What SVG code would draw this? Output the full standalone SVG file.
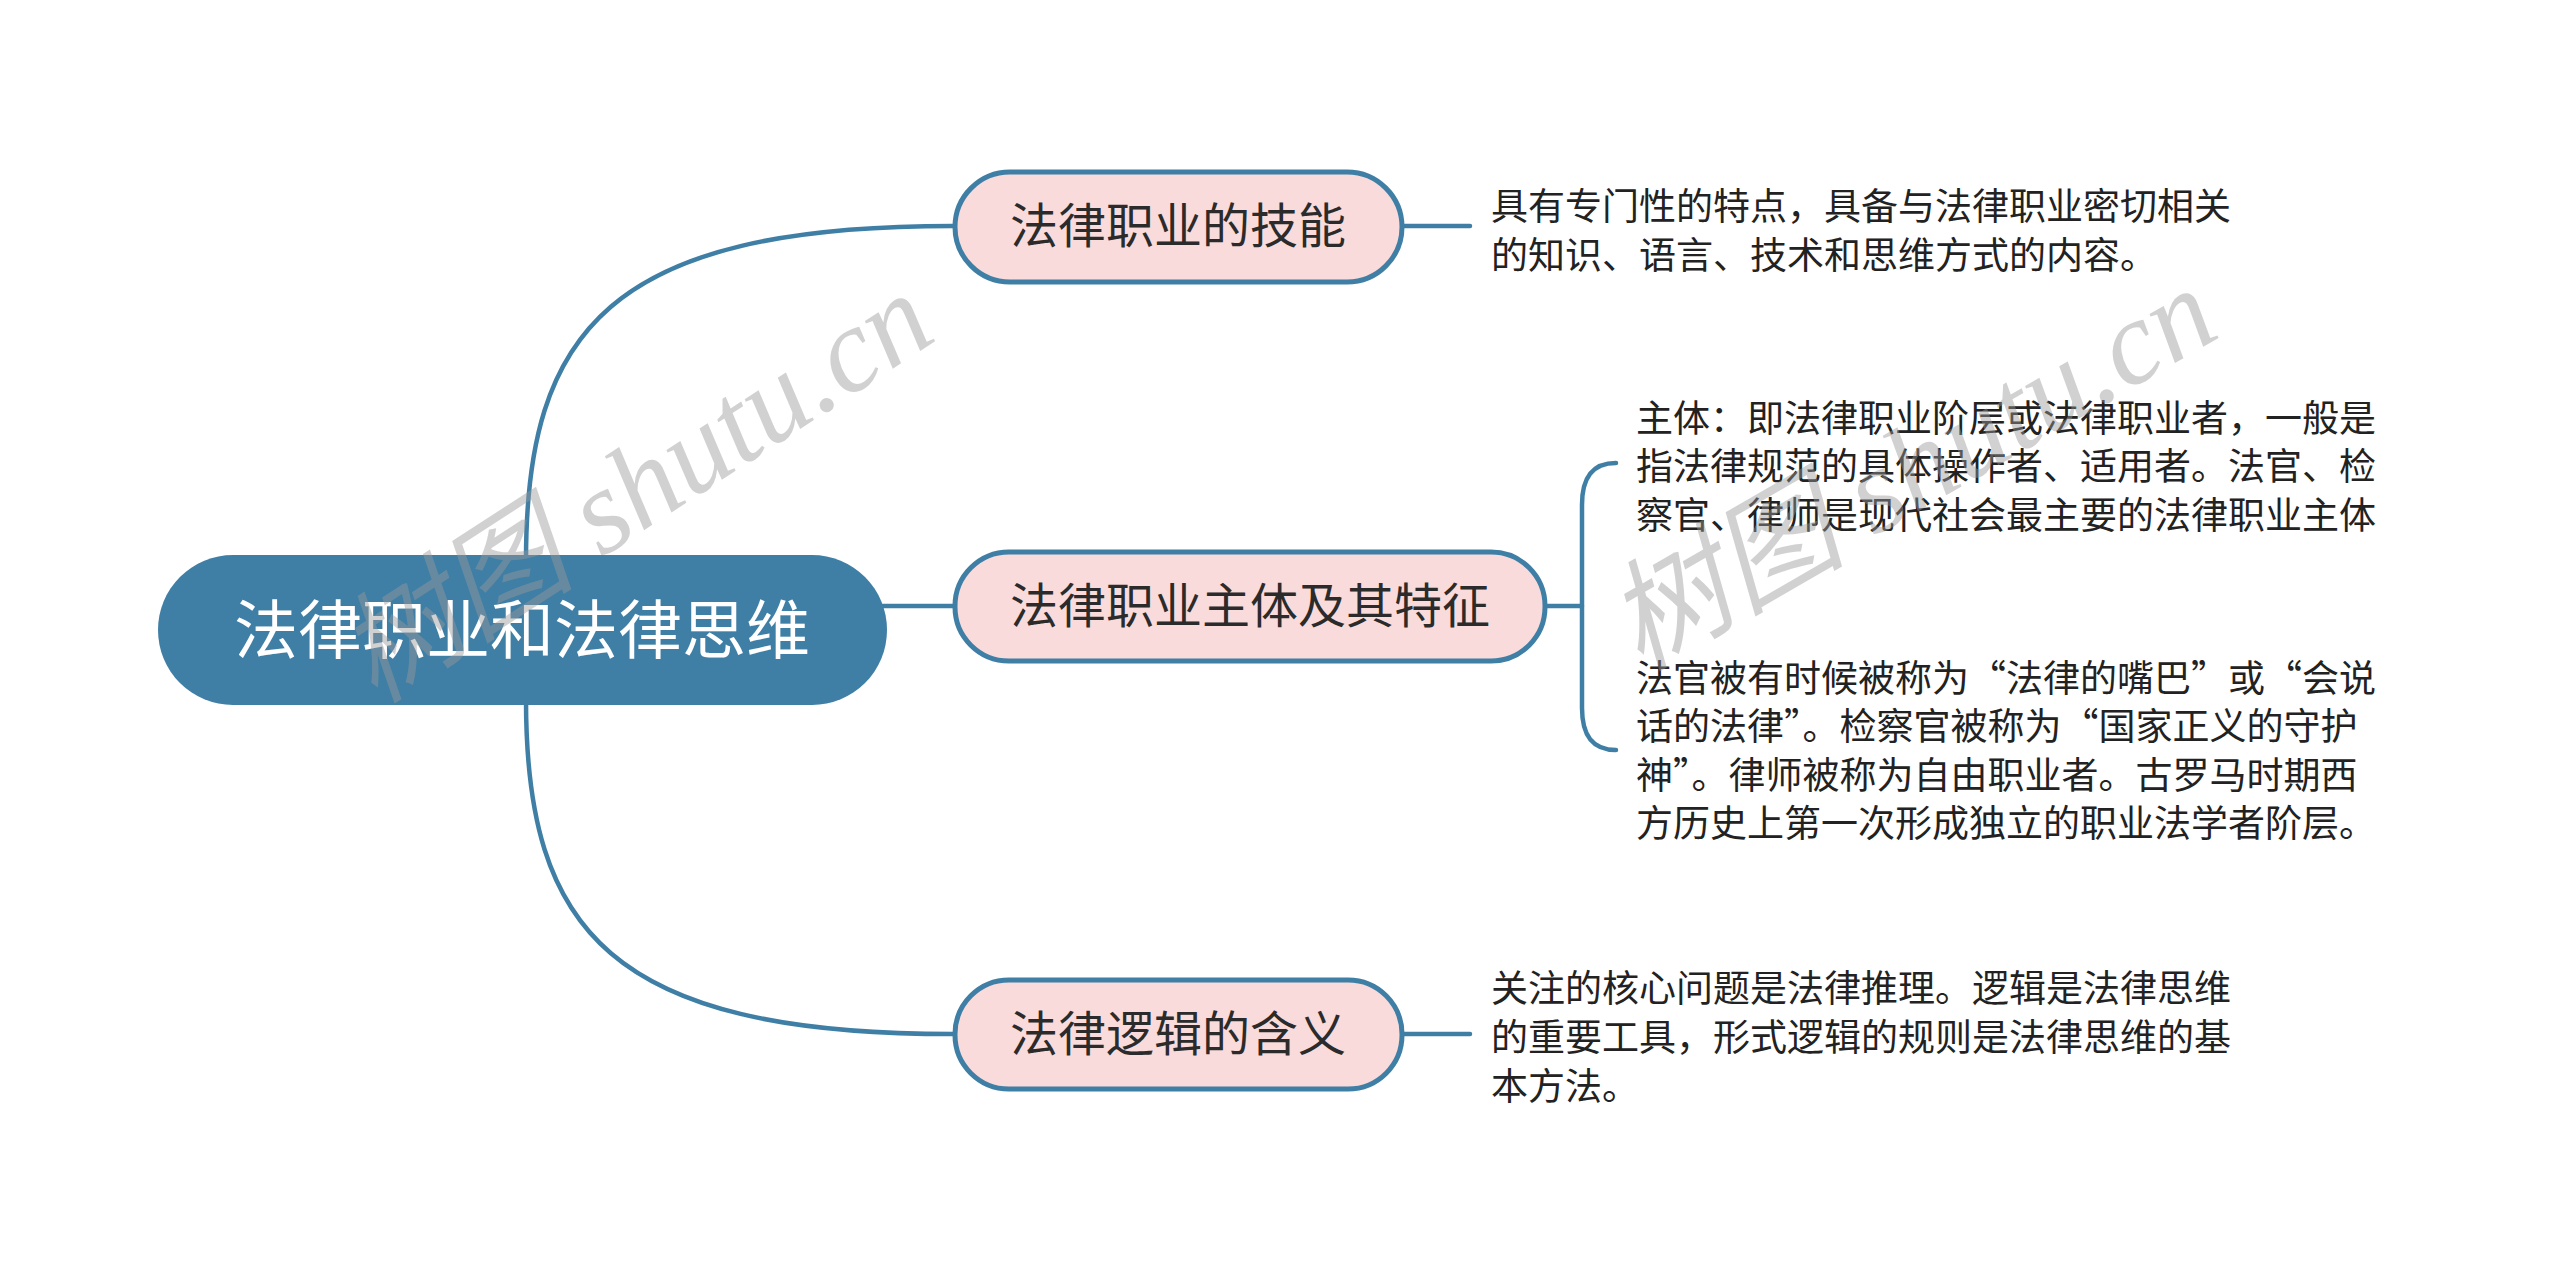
<svg xmlns="http://www.w3.org/2000/svg" width="2560" height="1285" viewBox="0 0 2560 1285">
<style>
.conn{fill:none;stroke:#3f7fa6;stroke-width:4.5;stroke-linecap:round}
.topic{fill:#fadbdb;stroke:#3f7fa6;stroke-width:5}
.root{fill:#3f7fa6}
.tt{font-family:"Noto Sans CJK SC","Noto Sans",sans-serif;font-size:48px;fill:#2b2b2b;text-anchor:middle}
.rt{font-family:"Noto Sans CJK SC","Noto Sans",sans-serif;font-size:64px;fill:#ffffff;text-anchor:middle}
.note{font-family:"Noto Sans CJK SC","Noto Sans",sans-serif;font-size:37px;fill:#222222}
.wm{font-family:"Liberation Serif","Noto Sans CJK SC",serif;font-style:italic;font-size:120px;fill:#9a9a9a;fill-opacity:0.45}
</style>
<rect width="2560" height="1285" fill="#ffffff"/>
<g id="connectors">
<path class="conn" d="M 526 560 C 526 330, 610 226, 953 226"/>
<path class="conn" d="M 870 606 L 953 606"/>
<path class="conn" d="M 526 700 C 526 930, 610 1034, 953 1034"/>
<path class="conn" d="M 1402 226 L 1470 226"/>
<path class="conn" d="M 1545 606 L 1582 606"/>
<path class="conn" d="M 1616 463 C 1592 463, 1582 478, 1582 505 L 1582 708 C 1582 735, 1592 750, 1616 750"/>
<path class="conn" d="M 1402 1034 L 1470 1034"/>
</g>
<g id="root">
<rect class="root" x="158" y="555" width="729" height="150" rx="75"/>
<text class="rt" x="522" y="653">法律职业和法律思维</text>
</g>
<g id="topic1">
<rect class="topic" x="955" y="172" width="447" height="110" rx="55"/>
<text class="tt" x="1178" y="243">法律职业的技能</text>
</g>
<g id="topic2">
<rect class="topic" x="955" y="552" width="590" height="109" rx="54"/>
<text class="tt" x="1250" y="623">法律职业主体及其特征</text>
</g>
<g id="topic3">
<rect class="topic" x="955" y="980" width="447" height="109" rx="54"/>
<text class="tt" x="1178" y="1051">法律逻辑的含义</text>
</g>
<g id="note1">
<text class="note" x="1491" y="220">具有专门性的特点，具备与法律职业密切相关</text>
<text class="note" x="1491" y="269">的知识、语言、技术和思维方式的内容。</text>
</g>
<g id="note2a">
<text class="note" x="1636" y="432">主体：即法律职业阶层或法律职业者，一般是</text>
<text class="note" x="1636" y="480">指法律规范的具体操作者、适用者。法官、检</text>
<text class="note" x="1636" y="529">察官、律师是现代社会最主要的法律职业主体</text>
</g>
<g id="note2b">
<text class="note" x="1636" y="692">法官被有时候被称为“法律的嘴巴”或“会说</text>
<text class="note" x="1636" y="740">话的法律”。检察官被称为“国家正义的守护</text>
<text class="note" x="1636" y="789">神”。律师被称为自由职业者。古罗马时期西</text>
<text class="note" x="1636" y="837">方历史上第一次形成独立的职业法学者阶层。</text>
</g>
<g id="note3">
<text class="note" x="1491" y="1002">关注的核心问题是法律推理。逻辑是法律思维</text>
<text class="note" x="1491" y="1051">的重要工具，形式逻辑的规则是法律思维的基</text>
<text class="note" x="1491" y="1100">本方法。</text>
</g>
<g id="watermark">
<text class="wm" transform="translate(375 705) rotate(-33)">树图 shutu.cn</text>
<text class="wm" transform="translate(1640 672) rotate(-30)">树图 shutu.cn</text>
</g>
</svg>
